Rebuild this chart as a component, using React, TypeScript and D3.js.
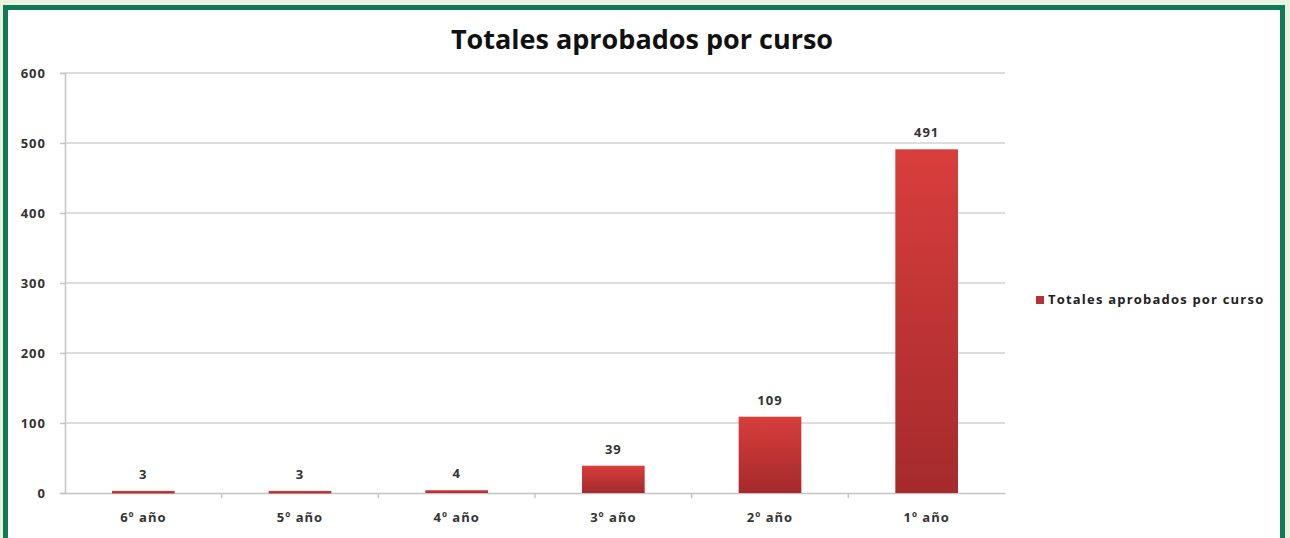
import React from "react";
import * as d3 from "d3";

const cursos = ["6º año", "5º año", "4º año", "3º año", "2º año", "1º año"];
const aprobados = [3, 3, 4, 39, 109, 491];
const yTicks = [0, 100, 200, 300, 400, 500, 600];
const serieNombre = "Totales aprobados por curso";
const titulo = "Totales aprobados por curso";

export default function App() {
  const ref = React.useRef<SVGSVGElement>(null);

  React.useEffect(() => {
    const width = 1290;
    const height = 538;
    const marginLeft = 65;
    const plotRight = 1005;
    const marginTop = 73;
    const plotBottom = 493;
    const font = "'Open Sans', 'DejaVu Sans', sans-serif";

    const svg = d3.select(ref.current);
    svg.selectAll("*").remove();
    svg.attr("width", width).attr("height", height).attr("viewBox", [0, 0, width, height]);

    // frame
    svg.append("rect").attr("width", width).attr("height", height).attr("fill", "#e9f3df");
    svg.append("rect").attr("x", 3).attr("y", 5).attr("width", 1282).attr("height", 560).attr("fill", "#0f7a55");
    svg.append("rect").attr("x", 8).attr("y", 10).attr("width", 1272).attr("height", 560).attr("fill", "#ffffff");

    const defs = svg.append("defs");
    const grad = defs.append("linearGradient").attr("id", "barGrad").attr("x1", 0).attr("y1", 0).attr("x2", 0).attr("y2", 1);
    grad.append("stop").attr("offset", "0%").attr("stop-color", "#d83e3c");
    grad.append("stop").attr("offset", "100%").attr("stop-color", "#a52a2c");

    const x = d3.scaleBand().domain(cursos).range([marginLeft, plotRight]).paddingInner(0.6).paddingOuter(0.3);
    const y = d3.scaleLinear().domain([0, 600]).range([plotBottom, marginTop]);

    // gridlines
    svg.append("g")
      .selectAll("line")
      .data(yTicks.filter((t) => t > 0))
      .join("line")
      .attr("x1", marginLeft)
      .attr("x2", plotRight)
      .attr("y1", (d) => y(d))
      .attr("y2", (d) => y(d))
      .attr("stroke", "#d2d2d2")
      .attr("stroke-width", 1.5);

    // y axis
    const yAxis = svg.append("g")
      .attr("transform", `translate(${marginLeft},0)`)
      .call(d3.axisLeft(y).tickValues(yTicks).tickSize(5).tickPadding(14));
    yAxis.selectAll("line, path").attr("stroke", "#c4c4c4").attr("stroke-width", 1.5);
    yAxis.selectAll("text")
      .attr("font-family", font)
      .attr("font-weight", "bold")
      .attr("font-size", 13)
      .attr("letter-spacing", 1)
      .attr("fill", "#333");

    // x axis
    const xAxis = svg.append("g")
      .attr("transform", `translate(0,${plotBottom})`)
      .call(d3.axisBottom(x).tickSize(0).tickPadding(20).tickSizeOuter(0));
    xAxis.select(".domain").attr("stroke", "#c4c4c4").attr("stroke-width", 1.5);
    xAxis.selectAll("text")
      .attr("font-family", font)
      .attr("font-weight", "bold")
      .attr("font-size", 13)
      .attr("letter-spacing", 1)
      .attr("fill", "#333");
    // category dividers
    const step = x.step();
    svg.append("g")
      .selectAll("line")
      .data(cursos.slice(1))
      .join("line")
      .attr("x1", (d) => (x(d) as number) - (step - x.bandwidth()) / 2)
      .attr("x2", (d) => (x(d) as number) - (step - x.bandwidth()) / 2)
      .attr("y1", plotBottom)
      .attr("y2", plotBottom + 5)
      .attr("stroke", "#c4c4c4")
      .attr("stroke-width", 1.5);

    // bars
    svg.append("g")
      .selectAll("rect")
      .data(aprobados)
      .join("rect")
      .attr("x", (d, i) => x(cursos[i]) as number)
      .attr("y", (d) => y(d))
      .attr("width", x.bandwidth())
      .attr("height", (d) => Math.max(y(0) - y(d), 2.5))
      .attr("fill", "url(#barGrad)");

    // value labels
    svg.append("g")
      .selectAll("text")
      .data(aprobados)
      .join("text")
      .attr("x", (d, i) => (x(cursos[i]) as number) + x.bandwidth() / 2)
      .attr("y", (d) => y(d) - 12)
      .attr("text-anchor", "middle")
      .attr("font-family", font)
      .attr("font-weight", "bold")
      .attr("font-size", 13)
      .attr("letter-spacing", 1)
      .attr("fill", "#333")
      .text((d) => d);

    // title
    svg.append("text")
      .attr("x", 642)
      .attr("y", 49)
      .attr("text-anchor", "middle")
      .attr("font-family", font)
      .attr("font-weight", "bold")
      .attr("font-size", 27)
      .attr("fill", "#111")
      .text(titulo);

    // legend
    svg.append("rect").attr("x", 1036).attr("y", 296).attr("width", 8).attr("height", 8).attr("fill", "#b8303a");
    svg.append("text")
      .attr("x", 1048)
      .attr("y", 304)
      .attr("font-family", font)
      .attr("font-weight", "bold")
      .attr("font-size", 13)
      .attr("letter-spacing", 1.2)
      .attr("fill", "#222")
      .text(serieNombre);
  }, []);

  return (
    <div style={{ position: "absolute", left: 0, top: 0 }}>
      <svg ref={ref}></svg>
    </div>
  );
}
